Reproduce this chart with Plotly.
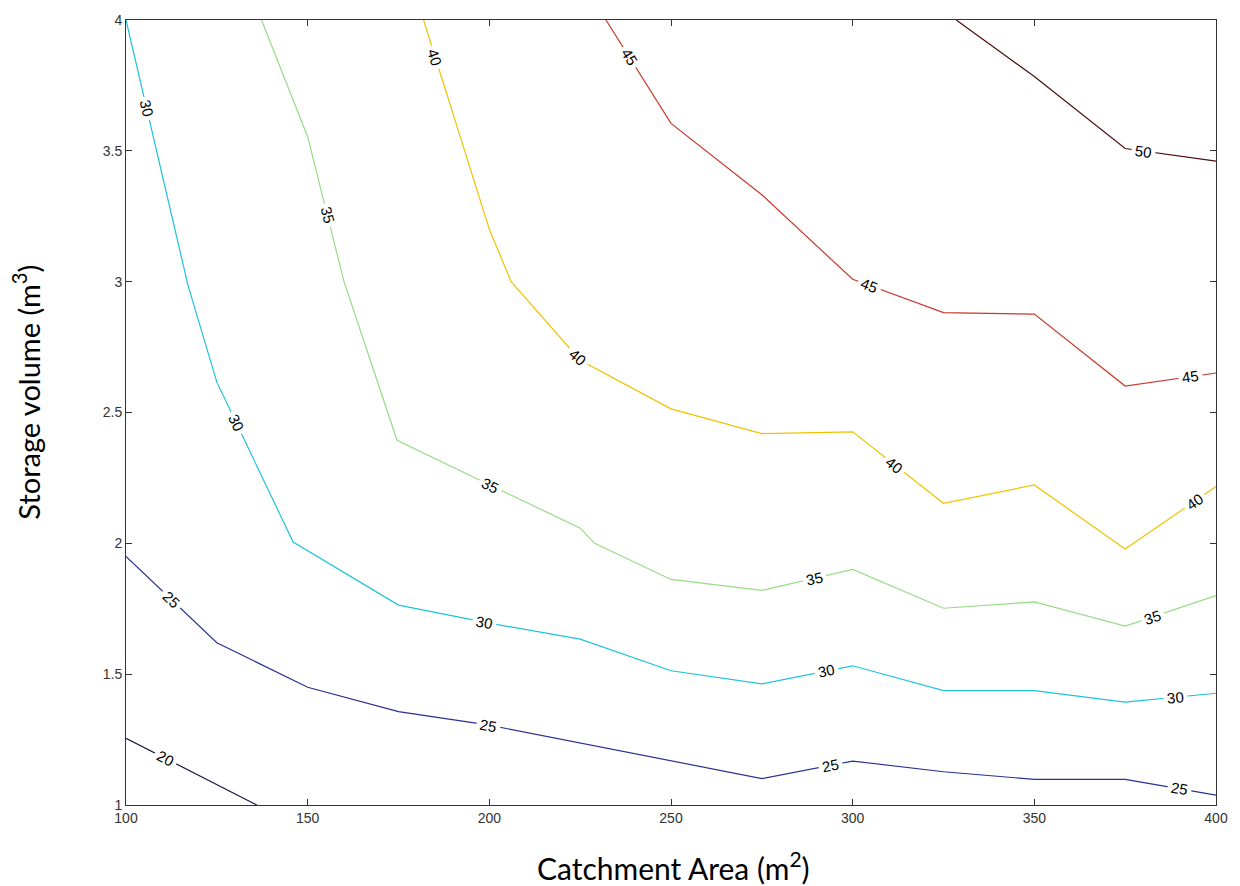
import numpy as np
import plotly.graph_objects as go

# ---- data (contour lines of the same value) ----
levels = [20, 25, 30, 35, 40, 45, 50]

area_20 = [100, 136]
vol_20 = [1.255, 1.0]

area_25 = [100, 125, 150, 175, 200, 225, 250, 275, 300, 325, 350, 375, 400]
vol_25 = [1.95, 1.62, 1.45, 1.357, 1.305, 1.237, 1.171, 1.101, 1.168, 1.127, 1.098, 1.098, 1.038]

area_30 = [100, 117.1, 125, 146, 175, 200, 225, 250, 275, 300, 325, 350, 375, 400]
vol_30 = [4.0, 2.984, 2.616, 2.005, 1.764, 1.695, 1.634, 1.513, 1.463, 1.532, 1.437, 1.437, 1.393, 1.427]

area_35 = [137.3, 150, 160, 174.6, 200, 225, 229, 250, 275, 300, 325, 350, 375, 400]
vol_35 = [4.0, 3.554, 3.0, 2.394, 2.224, 2.058, 2.0, 1.862, 1.82, 1.90, 1.752, 1.776, 1.684, 1.80]

area_40 = [181.9, 200, 206, 225, 250, 275, 300, 325, 350, 375, 400]
vol_40 = [4.0, 3.2, 3.0, 2.70, 2.514, 2.419, 2.426, 2.153, 2.223, 1.978, 2.217]

area_45 = [232.1, 250, 275, 300, 325, 350, 375, 400]
vol_45 = [4.0, 3.605, 3.332, 3.009, 2.882, 2.876, 2.601, 2.651]

area_50 = [328.5, 350, 375, 400]
vol_50 = [4.0, 3.784, 3.509, 3.461]

# catchment areas at which each contour carries its value label
label_areas_20 = [111]
label_areas_25 = [112.5, 199.7, 293.8, 390]
label_areas_30 = [105.7, 130.3, 198.8, 292.9, 388.8]
label_areas_35 = [155.4, 200.3, 289.6, 382.4]
label_areas_40 = [185.1, 224.4, 311.6, 394.2]
label_areas_45 = [238.5, 304.6, 392.9]
label_areas_50 = [380.1]

x_ticks = [100, 150, 200, 250, 300, 350, 400]
y_ticks = [1, 1.5, 2, 2.5, 3, 3.5, 4]

# ---- styling ----
colors = {20: "#14144f", 25: "#27338f", 30: "#1fc3d8", 35: "#96dc86",
          40: "#efc300", 45: "#c8392c", 50: "#4a0c0c"}

W, H = 1240, 886
ML, MR, MT, MB = 126, 18, 16, 81
XR = [100, 400]
YR = [1, 4]
sx = (W - ML - MR) / (XR[1] - XR[0])
sy = (H - MT - MB) / (YR[1] - YR[0])

lines = {
    20: (area_20, vol_20, label_areas_20),
    25: (area_25, vol_25, label_areas_25),
    30: (area_30, vol_30, label_areas_30),
    35: (area_35, vol_35, label_areas_35),
    40: (area_40, vol_40, label_areas_40),
    45: (area_45, vol_45, label_areas_45),
    50: (area_50, vol_50, label_areas_50),
}

fig = go.Figure()
annotations = []
for lev in levels:
    xs, ys, labs = lines[lev]
    fig.add_trace(go.Scatter(x=xs, y=ys, mode="lines",
                             line=dict(color=colors[lev], width=1.2),
                             hoverinfo="skip", showlegend=False))
    for x0 in labs:
        y0 = float(np.interp(x0, xs, ys))
        d = 5.0
        xa, xb = max(x0 - d, xs[0]), min(x0 + d, xs[-1])
        ya, yb = np.interp(xa, xs, ys), np.interp(xb, xs, ys)
        ang = np.degrees(np.arctan2(-(yb - ya) * sy, (xb - xa) * sx))
        annotations.append(dict(
            x=x0, y=y0, xref="x", yref="y", text=str(lev), showarrow=False,
            textangle=float(ang), bgcolor="white", borderpad=3,
            font=dict(family="Liberation Sans, Arial, sans-serif", size=15, color="black"),
            xanchor="center", yanchor="middle"))

annotations.append(dict(
    x=(677 - ML) / (W - ML - MR), y=(H - MB - 866) / (H - MT - MB),
    xref="paper", yref="paper", showarrow=False,
    text="Catchment Area (m<sup>2</sup>)", xanchor="center", yanchor="middle",
    font=dict(family="Lato, Carlito, sans-serif", size=30, color="black")))
annotations.append(dict(
    x=(26 - ML) / (W - ML - MR), y=(H - MB - 390) / (H - MT - MB),
    xref="paper", yref="paper", showarrow=False, textangle=-90,
    text="Storage volume (m<sup>3</sup>)", xanchor="center", yanchor="middle",
    font=dict(family="Lato, Carlito, sans-serif", size=29, color="black")))

axis_common = dict(showline=True, linecolor="#333333", linewidth=1, mirror="ticks",
                   ticks="inside", ticklen=6, tickcolor="#333333", showgrid=False,
                   zeroline=False,
                   tickfont=dict(family="Liberation Sans, Arial, sans-serif", size=14, color="#333333"))

fig.update_layout(
    width=W, height=H,
    margin=dict(l=ML, r=MR, t=MT, b=MB, pad=0),
    paper_bgcolor="white", plot_bgcolor="white",
    xaxis=dict(range=XR, tickvals=x_ticks, ticktext=[str(v) for v in x_ticks], **axis_common),
    yaxis=dict(range=YR, tickvals=y_ticks, ticktext=[("%g" % v) for v in y_ticks], **axis_common),
    annotations=annotations,
    hovermode=False,
)

fig.write_html("out.html", config={"displayModeBar": False})
